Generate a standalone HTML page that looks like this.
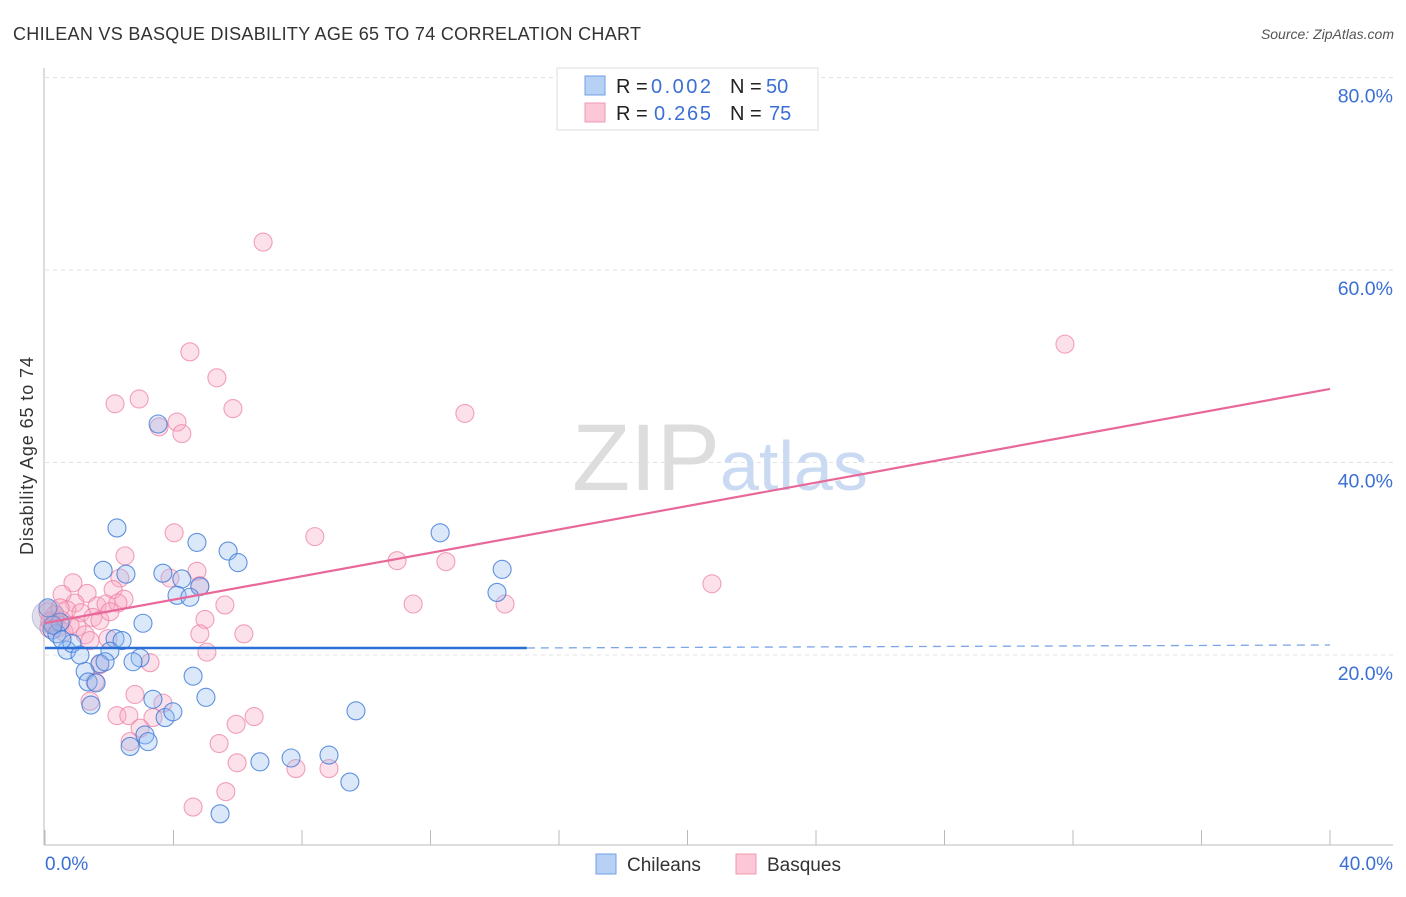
<!DOCTYPE html>
<html><head><meta charset="utf-8"><style>
body{margin:0;background:#fff;font-family:"Liberation Sans",sans-serif;}
svg text{font-family:"Liberation Sans",sans-serif;}
</style></head><body>
<svg id="chart" width="1406" height="892" xmlns="http://www.w3.org/2000/svg">
<text x="13" y="40" font-size="18" fill="#333" textLength="628" lengthAdjust="spacing">CHILEAN VS BASQUE DISABILITY AGE 65 TO 74 CORRELATION CHART</text>
<text x="1394" y="39" font-size="14" fill="#555" font-style="italic" text-anchor="end">Source: ZipAtlas.com</text>
<g id="grid"></g>
<g id="ticks"></g>
<line x1="44" y1="68" x2="44" y2="845" stroke="#bbb"/>
<line x1="44" y1="845" x2="1393" y2="845" stroke="#bbb"/>
<text x="720" y="490" font-size="95" fill="#ddd" font-family="Liberation Serif" text-anchor="middle">ZIP<tspan fill="#c9daf2" font-family="Liberation Sans" font-size="70">atlas</tspan></text>
<g id="pts"></g>
<g id="lines"></g>
<text transform="translate(33,456) rotate(-90)" font-size="18" fill="#333" text-anchor="middle" textLength="198" lengthAdjust="spacing">Disability Age 65 to 74</text>
<text x="45" y="870" font-size="19" fill="#3b6fd4">0.0%</text>
<text x="1393" y="870" font-size="19" fill="#3b6fd4" text-anchor="end">40.0%</text>
<g>
<rect x="557" y="68" width="261" height="62" fill="#fff" stroke="#ddd"/>
<rect x="585" y="76" width="20" height="19" fill="#b7d1f5" stroke="#6fa0e6"/>
<rect x="585" y="103" width="20" height="19" fill="#fcc7d6" stroke="#ee9ab3"/>
<text x="616" y="93" font-size="20" fill="#222">R = <tspan fill="#3b6fd4" x="651" textLength="60">0.002</tspan><tspan x="730">N = </tspan><tspan fill="#3b6fd4" x="766">50</tspan></text>
<text x="616" y="120" font-size="20" fill="#222">R = <tspan fill="#3b6fd4" x="654" textLength="57">0.265</tspan><tspan x="730">N = </tspan><tspan fill="#3b6fd4" x="769">75</tspan></text>
</g>
<g>
<rect x="596" y="854" width="20" height="20" fill="#b7d1f5" stroke="#6fa0e6"/>
<text x="627" y="871" font-size="19" fill="#333">Chileans</text>
<rect x="736" y="854" width="20" height="20" fill="#fcc7d6" stroke="#ee9ab3"/>
<text x="767" y="871" font-size="19" fill="#333">Basques</text>
</g>
</svg>
<script>
const yTicks=[20,40,60,80];
const xTickCount=10;
const blueX=[2.24,3.52,4.73,5.70,6.01,1.81,2.52,3.67,4.26,4.82,4.11,4.51,3.05,12.30,14.23,14.07,2.18,2.40,2.02,2.96,2.74,1.71,1.87,1.25,1.34,1.59,4.61,3.36,5.01,1.43,3.74,3.98,3.11,2.65,3.21,9.68,6.69,7.66,8.84,9.49,5.45,0.09,0.22,0.37,0.47,0.68,0.84,0.53,1.09,0.25];
const blueY=[33.2,44.0,31.7,30.8,29.6,28.8,28.4,28.5,27.9,27.1,26.2,26.0,23.3,32.7,28.9,26.5,21.7,21.5,20.4,19.7,19.3,19.1,19.3,18.3,17.2,17.1,17.8,15.4,15.6,14.8,13.5,14.1,11.7,10.5,11.0,14.2,8.9,9.3,9.6,6.8,3.5,24.9,22.6,22.2,23.4,20.5,21.2,21.6,20.0,23.1];
const pinkX=[6.79,31.75,4.51,5.35,2.18,2.93,5.85,13.07,3.55,4.11,4.26,4.02,8.40,2.49,10.96,12.48,20.76,2.33,3.89,4.73,4.82,0.87,0.53,1.31,2.12,2.46,1.62,1.90,2.27,5.60,11.46,14.32,0.93,0.68,1.12,1.49,0.53,4.98,1.00,1.25,1.40,1.96,4.82,6.19,5.04,1.71,3.27,1.56,2.80,3.67,1.40,2.24,2.61,3.36,2.96,5.95,6.51,2.65,5.42,5.98,7.81,8.84,4.61,5.63,0.31,0.22,0.40,0.59,0.78,0.09,0.12,0.47,1.71,2.02,0.15];
const pinkY=[62.9,52.3,51.5,48.8,46.1,46.6,45.6,45.1,43.7,44.2,43.0,32.7,32.3,30.3,29.8,29.7,27.4,28.0,28.0,28.7,27.2,27.5,26.3,26.4,26.8,25.8,25.1,25.3,25.4,25.2,25.3,25.3,25.4,24.7,24.4,23.9,23.6,23.7,22.9,22.1,21.5,21.7,22.2,22.2,20.3,19.0,19.2,17.2,15.9,15.0,15.2,13.7,13.7,13.5,12.4,12.8,13.6,11.0,10.8,8.8,8.2,8.2,4.2,5.8,24.2,23.3,22.8,22.4,23.1,24.5,22.8,24.9,23.6,24.5,23.5];
const blueTrend=[20.73,20.73];
const pinkTrend=[23.32,47.64];
const NS='http://www.w3.org/2000/svg';
const X=v=>45+v*32.125, Y=v=>655-(v-20)*9.625;
function mk(t,a,p){const e=document.createElementNS(NS,t);for(const k in a)e.setAttribute(k,a[k]);p.appendChild(e);return e;}
const grid=document.getElementById('grid');
yTicks.forEach(t=>{
 const l=mk('line',{x1:45,x2:1393,y1:Y(t),y2:Y(t),stroke:'#e3e3e3','stroke-dasharray':'4,4'},grid);
 
 
 const tx=mk('text',{x:1393,y:Y(t)+25,'font-size':19.5,fill:'#3b6fd4','text-anchor':'end'},grid);
 tx.textContent=t.toFixed(1)+'%';
 
 
});
const ticks=document.getElementById('ticks');
for(let i=0;i<=xTickCount;i++){
 const l=mk('line',{x1:X(i*4),x2:X(i*4),y1:830,y2:845,stroke:'#bbb'},ticks);
 
 
}
const pts=document.getElementById('pts');
pinkX.forEach((x,i)=>{const c=mk('circle',{cx:X(x),cy:Y(pinkY[i]),r:9,fill:'rgba(249,170,195,0.35)',stroke:'rgba(236,130,165,0.75)','stroke-width':1.1},pts);
 
 });
blueX.forEach((x,i)=>{const c=mk('circle',{cx:X(x),cy:Y(blueY[i]),r:9,fill:'rgba(150,190,240,0.35)',stroke:'rgba(60,120,215,0.8)','stroke-width':1.1},pts);
 
 });
const big=mk('circle',{cx:X(0.1),cy:Y(24.0),r:16,fill:'rgba(170,160,200,0.35)',stroke:'rgba(150,150,200,0.5)'},pts);


const lines=document.getElementById('lines');
const lb=mk('line',{x1:X(0),x2:X(15),y1:Y(blueTrend[0]),y2:Y(blueTrend[0]+(blueTrend[1]-blueTrend[0])*15/40),stroke:'#2a6fd6','stroke-width':2.5},lines);


const lbd=mk('line',{x1:X(15),x2:X(40),y1:Y(blueTrend[0]),y2:Y(blueTrend[1])-3,stroke:'#7aa5e6','stroke-width':1.3,'stroke-dasharray':'8,6'},lines);


const lp=mk('line',{x1:X(0),x2:X(40),y1:Y(pinkTrend[0]),y2:Y(pinkTrend[1]),stroke:'#e8689a','stroke-width':2.2},lines);


</script>
</body></html>
